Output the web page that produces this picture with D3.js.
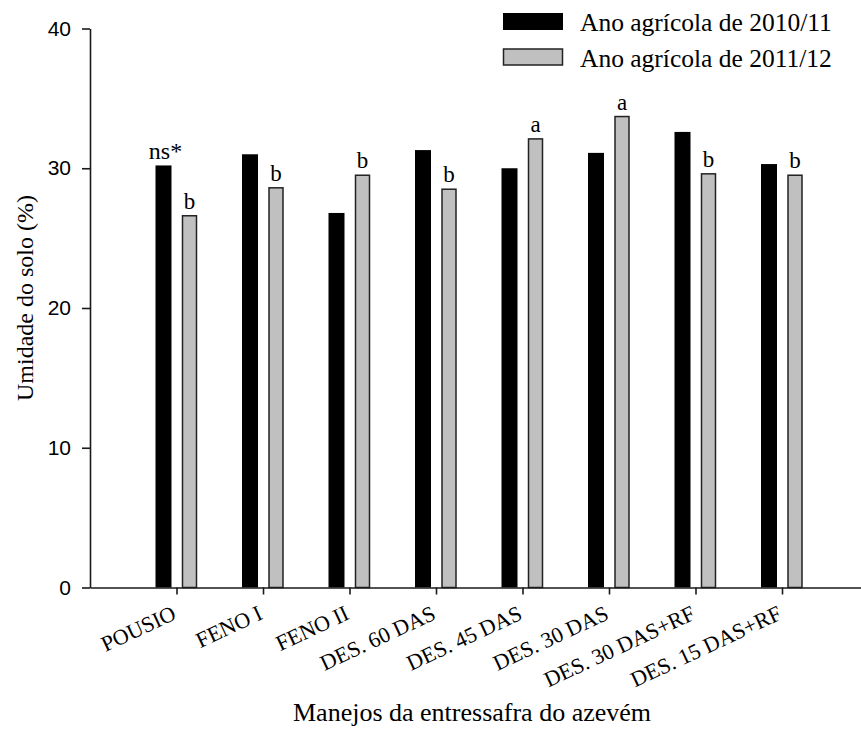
<!DOCTYPE html>
<html>
<head>
<meta charset="utf-8">
<script src="https://cdn.jsdelivr.net/npm/d3@7"></script>
<style>
  html, body { margin: 0; padding: 0; background: #fff; }
  svg { display: block; }
</style>
</head>
<body>
<svg id="chart" width="861" height="729"></svg>
<script>
// Soil moisture by ryegrass off-season management, two crop years
const categories = ["POUSIO", "FENO I", "FENO II", "DES. 60 DAS", "DES. 45 DAS",
                    "DES. 30 DAS", "DES. 30 DAS+RF", "DES. 15 DAS+RF"];
const year2010 = [30.2, 31.0, 26.8, 31.3, 30.0, 31.1, 32.6, 30.3];
const year2011 = [26.6, 28.6, 29.5, 28.5, 32.1, 33.7, 29.6, 29.5];
const letters2010 = ["ns*", "", "", "", "", "", "", ""];
const letters2011 = ["b", "b", "b", "b", "a", "a", "b", "b"];
const yTicks = [0, 10, 20, 30, 40];
const seriesNames = ["Ano agrícola de 2010/11", "Ano agrícola de 2011/12"];

const serif = "'Liberation Serif', 'Times New Roman', serif";
const sans = "'Liberation Sans', Arial, sans-serif";
const axisColor = "#1a1a1a";

const svg = d3.select("#chart");

const y = d3.scaleLinear().domain([0, 40]).range([587.5, 28.5]);
const x = d3.scaleLinear().domain([0, categories.length + 1]).range([90, 868.5]);
const cx = i => x(i + 1);

// Bars
const g = svg.append("g");
g.selectAll("rect.y1").data(year2010).join("rect")
  .attr("class", "y1")
  .attr("x", (d, i) => cx(i) - 21)
  .attr("width", 16)
  .attr("y", d => y(d))
  .attr("height", d => y(0) - y(d))
  .attr("fill", "#000");

g.selectAll("rect.y2").data(year2011).join("rect")
  .attr("class", "y2")
  .attr("x", (d, i) => cx(i) + 6)
  .attr("width", 14)
  .attr("y", d => y(d))
  .attr("height", d => y(0) - y(d))
  .attr("fill", "#c0c0c0")
  .attr("stroke", "#222")
  .attr("stroke-width", 1.5);

// Significance letters
g.selectAll("text.l1").data(year2010).join("text")
  .attr("class", "l1")
  .attr("x", (d, i) => cx(i) - 11)
  .attr("y", d => y(d) - 6)
  .attr("text-anchor", "middle")
  .attr("font-family", serif)
  .attr("font-size", 24)
  .text((d, i) => letters2010[i]);

g.selectAll("text.l2").data(year2011).join("text")
  .attr("class", "l2")
  .attr("x", (d, i) => cx(i) + 13)
  .attr("y", d => y(d) - 7)
  .attr("text-anchor", "middle")
  .attr("font-family", serif)
  .attr("font-size", 23)
  .text((d, i) => letters2011[i]);

// Y axis
const yAxis = svg.append("g")
  .attr("transform", `translate(${x(0)},0)`)
  .call(d3.axisLeft(y).tickValues(yTicks).tickSize(8).tickSizeOuter(0).tickPadding(11));
yAxis.select(".domain").attr("stroke", axisColor).attr("stroke-width", 1.6);
yAxis.selectAll(".tick line").attr("stroke", axisColor).attr("stroke-width", 1.6);
yAxis.selectAll(".tick text").attr("font-family", sans).attr("font-size", 21).attr("fill", "#000");

// X axis
const xAxis = svg.append("g")
  .attr("transform", `translate(0,${y(0)})`)
  .call(d3.axisBottom(x).tickValues(d3.range(1, categories.length + 1)).tickSize(7).tickSizeOuter(0).tickFormat(""));
xAxis.select(".domain").attr("stroke", axisColor).attr("stroke-width", 1.6);
xAxis.selectAll(".tick line").attr("stroke", axisColor).attr("stroke-width", 1.6);

svg.append("g").selectAll("text").data(categories).join("text")
  .attr("transform", (d, i) => `translate(${cx(i) + 1},${y(0) + 31}) rotate(-25)`)
  .attr("text-anchor", "end")
  .attr("font-family", serif)
  .attr("font-size", 22)
  .text(d => d);

// Axis titles
svg.append("text")
  .attr("x", 472).attr("y", 721)
  .attr("text-anchor", "middle")
  .attr("font-family", serif)
  .attr("font-size", 26)
  .text("Manejos da entressafra do azevém");

svg.append("text")
  .attr("transform", "translate(33,298) rotate(-90)")
  .attr("text-anchor", "middle")
  .attr("font-family", serif)
  .attr("font-size", 24)
  .text("Umidade do solo (%)");

// Legend
const legend = svg.append("g");
legend.append("rect").attr("x", 503).attr("y", 13).attr("width", 60).attr("height", 17).attr("fill", "#000");
legend.append("rect").attr("x", 503.5).attr("y", 49).attr("width", 59).attr("height", 16)
  .attr("fill", "#c0c0c0").attr("stroke", "#222").attr("stroke-width", 1.5);
legend.selectAll("text").data(seriesNames).join("text")
  .attr("x", 580)
  .attr("y", (d, i) => 30.5 + i * 36)
  .attr("font-family", serif)
  .attr("font-size", 25.5)
  .text(d => d);
</script>
</body>
</html>
